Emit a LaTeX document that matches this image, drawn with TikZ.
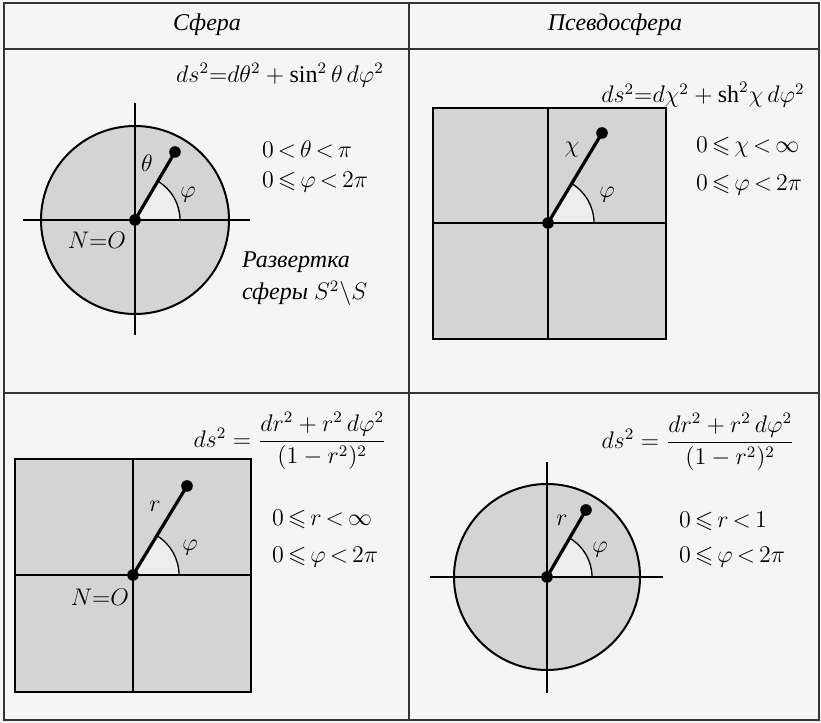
\documentclass[tikz,border=0pt]{standalone}
\usepackage{amsmath, amssymb}
\usepackage{fontspec}
\setmainfont{Liberation Serif}
\usetikzlibrary{positioning}

\begin{document}
\begin{tikzpicture}[x=0.5pt, y=0.5pt, font=\fontsize{12}{14}\selectfont,
    tabline/.style={draw=black!80, line width=1.1pt},
    disk/.style={draw, line width=1pt, fill=black!17},
    sector/.style={fill=black!7},
    axisline/.style={draw, line width=0.65pt},
    ray/.style={draw, line width=1.6pt},
    blob/.style={circle, fill, inner sep=0pt, minimum size=5.8pt},
    colhead/.style={font=\fontsize{12}{14}\selectfont\itshape},
    rng/.style={anchor=west, align=left,
                execute at begin node={\thickmuskip=3mu plus 1mu}}]
    \fill[black!4] (0,0) rectangle (821,723);
    \useasboundingbox (0,0) rectangle (821,723);

    % table
    \draw[tabline] (4,3) rectangle (819,720);
    \draw[tabline] (4,674) -- (819,674);
    \draw[tabline] (4,330) -- (819,330);
    \draw[tabline] (409,3) -- (409,720);
    \node[colhead] (hsph) at (207,698) {Сфера};
    \node[colhead] (hpsd) at (615,698) {Псевдосфера};

    % sphere
    \coordinate (o1) at (135,503);
    \draw[disk] (o1) circle (94);
    \fill[sector] (o1) -- ++(45,0) arc[start angle=0, end angle=59.5, radius=45] -- cycle;
    \draw[axisline] (23,503) -- (250,503);
    \draw[axisline] (135,620) -- (135,388);
    \draw[axisline] (o1) ++(45,0) arc[start angle=0, end angle=59.5, radius=45];
    \node[blob] (c1) at (o1) {};
    \node[blob] (p1) at (175,571) {};
    \draw[ray] (c1.center) -- (p1.center);
    \node (th1) at (147,560) {$\theta$};
    \node (ph1) at (188,528) {$\varphi$};
    \node (no1) at (97,483) {$N{=}O$};
    \node (ds1) at (280,648) {$ds^2{=}d\theta^2+\sin^2\theta\,d\varphi^2$};
    \node[rng] (rg1) at (255,556) {$0<\theta<\pi$\\[1pt]$0\leqslant\varphi<2\pi$};
    \node[rng, font=\fontsize{12}{14}\selectfont\itshape] (unf) at (235,444)
        {Развертка\\[2pt]сферы $S^2{\setminus}S$};

    % pseudosphere
    \coordinate (o2) at (548,500);
    \draw[disk] (433,384) rectangle (666,615);
    \fill[sector] (o2) -- ++(46,0) arc[start angle=0, end angle=59, radius=46] -- cycle;
    \draw[axisline] (433,500) -- (666,500);
    \draw[axisline] (548,384) -- (548,615);
    \draw[axisline] (o2) ++(46,0) arc[start angle=0, end angle=59, radius=46];
    \node[blob] (c2) at (o2) {};
    \node[blob] (p2) at (602,590) {};
    \draw[ray] (c2.center) -- (p2.center);
    \node (ch2) at (572,573) {$\chi$};
    \node (ph2) at (607,528) {$\varphi$};
    \node (ds2) at (703,628) {$ds^2{=}d\chi^2+\mathrm{sh}^2\chi\,d\varphi^2$};
    \node[rng] (rg2) at (689,557) {$0\leqslant\chi<\infty$\\[5pt]$0\leqslant\varphi<2\pi$};

    % plane model
    \coordinate (o3) at (133,148);
    \draw[disk] (15,31) rectangle (251,264);
    \fill[sector] (o3) -- ++(46,0) arc[start angle=0, end angle=59, radius=46] -- cycle;
    \draw[axisline] (15,148) -- (251,148);
    \draw[axisline] (133,31) -- (133,264);
    \draw[axisline] (o3) ++(46,0) arc[start angle=0, end angle=59, radius=46];
    \node[blob] (c3) at (o3) {};
    \node[blob] (p3) at (187,237) {};
    \draw[ray] (c3.center) -- (p3.center);
    \node (r3) at (155,217) {$r$};
    \node (ph3) at (190,175) {$\varphi$};
    \node (no3) at (100,126) {$N{=}O$};
    \node (ds3) at (290,282) {$ds^2=\dfrac{dr^2+r^2\,d\varphi^2}{(1-r^2)^2}$};
    \node[rng] (rg3) at (265,184) {$0\leqslant r<\infty$\\[4.5pt]$0\leqslant\varphi<2\pi$};

    % disk model
    \coordinate (o4) at (547,146);
    \draw[disk] (o4) circle (93);
    \fill[sector] (o4) -- ++(45,0) arc[start angle=0, end angle=59.8, radius=45] -- cycle;
    \draw[axisline] (430,146) -- (663,146);
    \draw[axisline] (547,261) -- (547,30);
    \draw[axisline] (o4) ++(45,0) arc[start angle=0, end angle=59.8, radius=45];
    \node[blob] (c4) at (o4) {};
    \node[blob] (p4) at (586,213) {};
    \draw[ray] (c4.center) -- (p4.center);
    \node (r4) at (562,203) {$r$};
    \node (ph4) at (600,173) {$\varphi$};
    \node (ds4) at (698,281) {$ds^2=\dfrac{dr^2+r^2\,d\varphi^2}{(1-r^2)^2}$};
    \node[rng] (rg4) at (672,183) {$0\leqslant r<1$\\[3.5pt]$0\leqslant\varphi<2\pi$};
\end{tikzpicture}
\end{document}
